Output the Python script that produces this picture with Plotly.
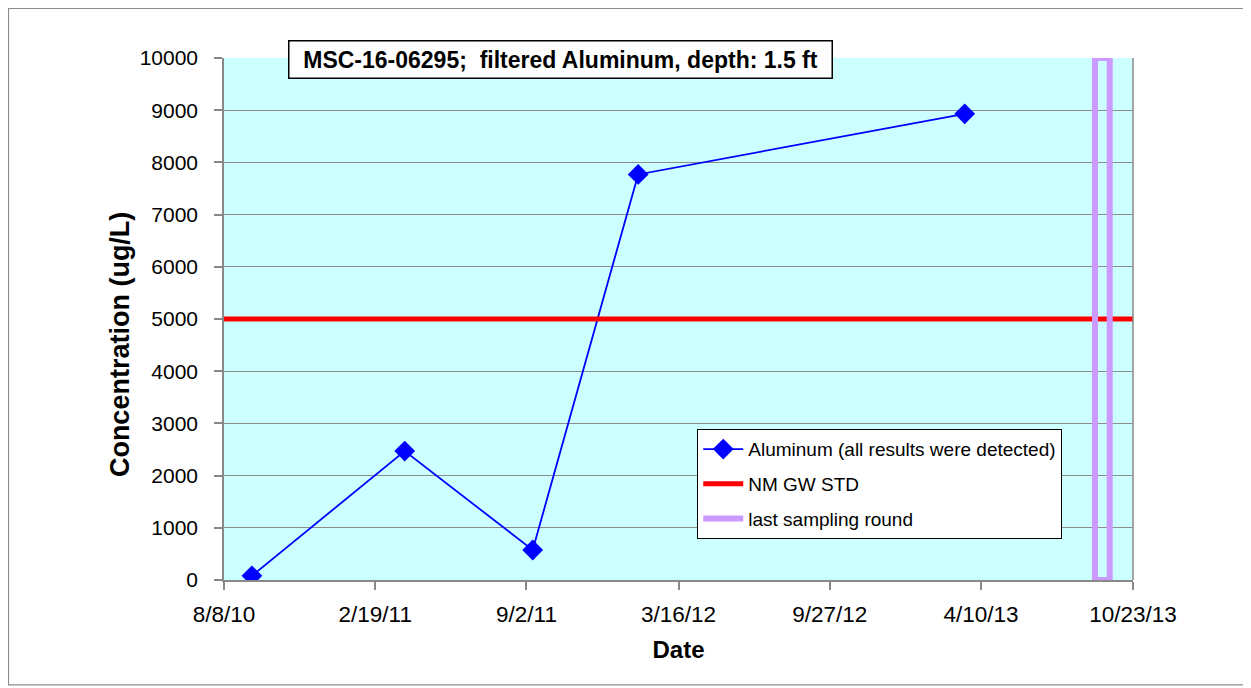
import plotly.graph_objects as go

# sample results
sample_dates = ["2010-09-13", "2011-03-29", "2011-09-10", "2012-01-24", "2013-03-20"]
aluminum = [80, 2470, 575, 7770, 8930]

# NM groundwater standard
std_dates = ["2010-08-08", "2013-10-23"]
std_values = [5000, 5000]

# last sampling round box
last_dates = ["2013-09-04", "2013-09-04", "2013-09-23", "2013-09-23", "2013-09-04"]
last_values = [0, 10000, 10000, 0, 0]

tick_dates = ["2010-08-08", "2011-02-19", "2011-09-02", "2012-03-16",
              "2012-09-27", "2013-04-10", "2013-10-23"]
tick_labels = ["8/8/10", "2/19/11", "9/2/11", "3/16/12", "9/27/12", "4/10/13", "10/23/13"]

AXIS_GRAY = "#888888"

fig = go.Figure()

fig.add_trace(go.Scatter(
    x=sample_dates, y=aluminum,
    mode="lines+markers",
    name="Aluminum (all results were detected)",
    legendgroup="al",
    line=dict(color="#0000FF", width=1.8),
    marker=dict(symbol="diamond", size=16, color="#0000FF"),
))
fig.add_trace(go.Scatter(
    x=std_dates, y=std_values,
    mode="lines",
    name="NM GW STD",
    legendgroup="std",
    line=dict(color="#FF0000", width=5),
))
fig.add_trace(go.Scatter(
    x=last_dates, y=last_values,
    mode="lines",
    name="last sampling round",
    legendgroup="last",
    line=dict(color="#CC99FF", width=6),
))

# title box
fig.add_annotation(
    x=0.3707, y=0.9962, xref="paper", yref="paper",
    xanchor="center", yanchor="middle",
    text="<b>MSC-16-06295;&nbsp; filtered Aluminum, depth: 1.5 ft</b>",
    showarrow=False, width=540, height=34,
    font=dict(family="Liberation Sans, Arial", size=23, color="black"),
    bgcolor="white", bordercolor="black", borderwidth=1.5, borderpad=1,
)

# y-axis title (sits a bit below the axis centre in the original)
fig.add_annotation(
    x=-0.1144, y=0.450, xref="paper", yref="paper",
    xanchor="center", yanchor="middle",
    text="<b>Concentration (ug/L)</b>", textangle=-90,
    showarrow=False,
    font=dict(family="Liberation Sans, Arial", size=27, color="black"),
)

# outer chart border
fig.add_shape(
    type="rect", xref="paper", yref="paper",
    x0=-0.2371, x1=1.1232, y0=-0.2011, y1=1.0948,
    line=dict(color="#8C8C8C", width=1.2),
)
# right edge of plot area
fig.add_shape(type="line", xref="paper", yref="paper", x0=1, x1=1, y0=0, y1=1,
              line=dict(color=AXIS_GRAY, width=1.5))

fig.update_layout(
    width=1243, height=680,
    margin=dict(l=216, r=118, t=50, b=108),
    plot_bgcolor="#CCFFFF",
    paper_bgcolor="white",
    font=dict(family="Liberation Sans, Arial", size=21, color="black"),
    showlegend=True,
    legend=dict(
        x=0.5204, y=0.2893, xanchor="left", yanchor="top",
        bgcolor="white", bordercolor="black", borderwidth=1.2,
        font=dict(family="Liberation Sans, Arial", size=19),
        traceorder="grouped", tracegroupgap=7, itemwidth=40,
    ),
)
fig.update_xaxes(
    range=["2010-08-08", "2013-10-23"],
    tickvals=tick_dates, ticktext=tick_labels,
    tickfont=dict(size=22.5),
    showgrid=False, showline=True, linecolor=AXIS_GRAY, linewidth=1.5,
    ticks="outside", ticklen=8, tickcolor=AXIS_GRAY, tickwidth=1.5,
    ticklabelstandoff=5,
    title=dict(text="<b>Date</b>", font=dict(family="Liberation Sans, Arial", size=24), standoff=15),
    zeroline=False,
)
fig.update_yaxes(
    range=[0, 10000], dtick=1000, tickformat="d",
    tickfont=dict(size=21),
    showgrid=True, gridcolor="#8C8C8C", gridwidth=1.3,
    showline=True, linecolor=AXIS_GRAY, linewidth=1.5,
    ticks="outside", ticklen=8, tickcolor=AXIS_GRAY, tickwidth=1.5,
    ticklabelstandoff=12,
    zeroline=False,
)

fig.write_html("out.html")
